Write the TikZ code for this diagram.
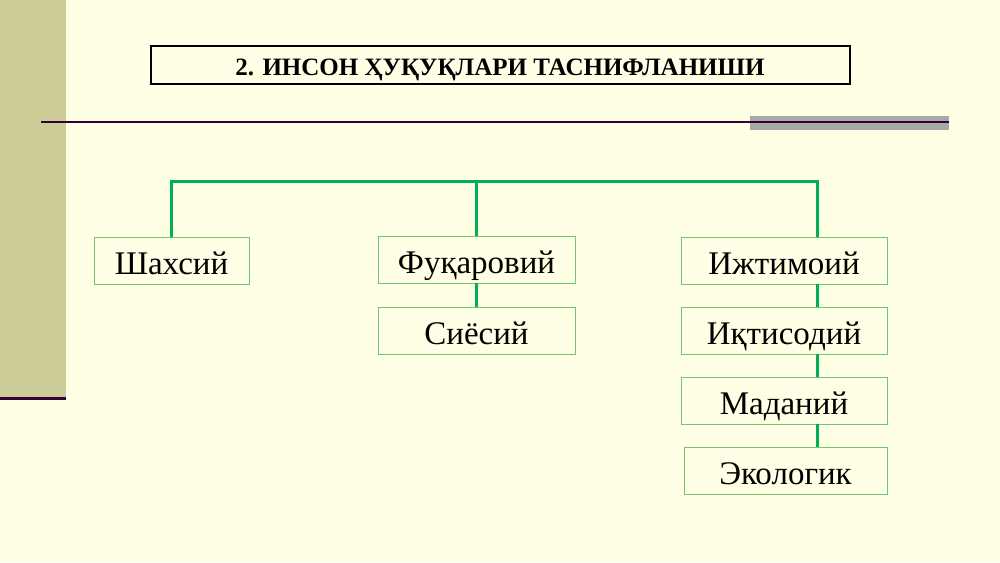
\documentclass[tikz,border=0pt]{standalone}
\usepackage{fontspec}
\setmainfont{Liberation Serif}
\usepackage{xcolor}
\definecolor{pagebg}{RGB}{255,255,229}
\definecolor{sidebar}{RGB}{204,204,153}
\definecolor{rulepurple}{RGB}{51,0,51}
\definecolor{rulegray}{RGB}{168,168,168}
\definecolor{linkgreen}{RGB}{0,176,80}
\definecolor{boxgreen}{RGB}{110,200,110}

\begin{document}
\begin{tikzpicture}[x=1pt, y=-1pt,
  every node/.style = {shape=rectangle, inner sep=0pt, align=center},
  kind/.style = {draw=boxgreen, line width=0.8pt,
    font=\fontsize{33}{38}\selectfont, text height=27.4pt, text depth=0pt,
    minimum height=47pt},
  link/.style = {draw=linkgreen, line width=3pt}]
  % page and side decoration
  \fill[pagebg] (0,0) rectangle (1000,562);
  \useasboundingbox (0,0) rectangle (1000,562);
  \fill[sidebar] (0,0) rectangle (66,398);
  \draw[rulepurple, line width=3pt] (0,398) -- (66,398);
  \fill[rulegray] (750,116) rectangle (949,130);
  \draw[rulepurple, line width=1.5pt] (41,122) -- (949,122);
  % title
  \node[draw=black, line width=2pt, minimum width=699pt, minimum height=38pt,
    font=\bfseries\fontsize{25}{30}\selectfont, text height=20pt, text depth=0pt]
    (title) at (500,65) {2. ИНСОН ҲУҚУҚЛАРИ ТАСНИФЛАНИШИ};
  % groups
  \node[kind, minimum width=155pt] (shax) at (171.5,261) {Шахсий};
  \node[kind, minimum width=197pt] (fuq) at (476.5,259.5) {Фуқаровий};
  \node[kind, minimum width=197pt] (siy) at (476.5,330.5) {Сиёсий};
  \node[kind, minimum width=206pt] (ijt) at (784,260.5) {Ижтимоий};
  \node[kind, minimum width=206pt] (iqt) at (784,330.5) {Иқтисодий};
  \node[kind, minimum width=206pt] (mad) at (784,400.5) {Маданий};
  \node[kind, minimum width=203pt] (eko) at (785.5,471) {Экологик};
  % connectors
  \coordinate (rt) at (817,181);
  \draw[link] (shax.north) |- (rt) -- (rt |- ijt.north);
  \draw[link] (fuq.north) -- (fuq.north |- rt);
  \draw[link] (fuq) -- (siy);
  \draw[link] (ijt.south -| rt) -- (iqt.north -| rt);
  \draw[link] (iqt.south -| rt) -- (mad.north -| rt);
  \draw[link] (mad.south -| rt) -- (eko.north -| rt);
\end{tikzpicture}
\end{document}
